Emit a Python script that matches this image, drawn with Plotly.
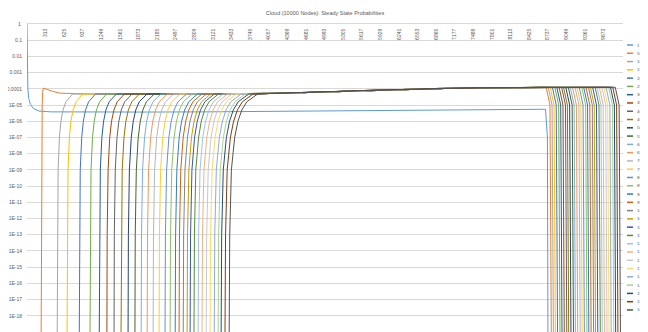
import plotly.graph_objects as go

# ---------------- data ----------------
series_names = ["1"] + [str(500 * i) for i in range(1, 33)]

colors = ["#5B9BD5", "#ED7D31", "#A5A5A5", "#FFC000", "#4472C4", "#70AD47",
          "#255E91", "#9E480E", "#636363", "#997300", "#264478", "#43682B",
          "#7CAFDD", "#F1975A", "#B7B7B7", "#FFCD33", "#698ED0", "#8CC168",
          "#327DC2", "#D26012", "#848484", "#CC9A00", "#335AA1", "#5A8A39",
          "#9DC3E6", "#F4B183", "#C9C9C9", "#FFD966", "#8FAADC", "#A9D18E",
          "#1F4E79", "#843C0C", "#525252"]

# series "1"
s1_node = [1, 3, 8, 15, 30, 60, 110, 200, 400, 1000, 2000, 3000, 4000, 5000, 6000, 7000, 8000, 8700, 8732, 8742]
s1_prob = [1, 1e-2, 1e-3, 1e-4, 2.5e-5, 1.1e-5, 6e-6, 4.3e-6, 3.8e-6, 3.7e-6, 3.7e-6, 3.8e-6, 4.0e-6,
           4.3e-6, 4.6e-6, 4.9e-6, 5.2e-6, 5.5e-6, 1e-7, 1e-21]

# series "500" (overshoots before joining the common plateau)
s2_node = [236, 240, 245, 250, 256, 262, 275, 330, 430, 560, 750]
s2_prob = [1e-21, 1e-13, 1e-9, 1e-7, 1e-5, 6e-5, 1.1e-4, 9.5e-5, 7e-5, 5.4e-5, 4.9e-5]

# rise fronts of series "1000" .. "16000": node reached at each probability level
rise_levels = [1e-21, 1e-13, 1e-9, 1e-7, 1e-6, 5e-6, 1.6e-5, 4.8e-5]
rise_at_1e21 = [505, 670, 875, 1055, 1210, 1340, 1460, 1575, 1695, 1810, 1915, 2015, 2115, 2215, 2315, 2400,
                2485, 2550, 2620, 2685, 2735, 2800, 2870, 2935, 3005, 3070, 3140, 3205, 3255, 3320, 3390]
rise_at_1e13 = [510, 675, 880, 1061, 1216, 1346, 1466, 1582, 1702, 1817, 1922, 2023, 2123, 2223, 2323, 2409,
                2494, 2559, 2629, 2694, 2745, 2810, 2880, 2945, 3016, 3081, 3151, 3216, 3267, 3332, 3402]
rise_at_1e9 = [523, 689, 894, 1075, 1231, 1362, 1482, 1598, 1719, 1835, 1940, 2041, 2142, 2243, 2343, 2429,
               2515, 2581, 2651, 2717, 2768, 2833, 2904, 2970, 3041, 3106, 3177, 3243, 3294, 3359, 3430]
rise_at_1e7 = [545, 712, 919, 1100, 1257, 1389, 1511, 1628, 1750, 1867, 1973, 2075, 2177, 2279, 2381, 2468,
               2554, 2621, 2693, 2760, 2812, 2879, 2950, 3017, 3089, 3156, 3228, 3295, 3346, 3413, 3485]
rise_at_1e6 = [570, 738, 946, 1128, 1286, 1419, 1542, 1660, 1783, 1901, 2008, 2111, 2214, 2317, 2420, 2508,
               2595, 2663, 2736, 2804, 2857, 2925, 2997, 3065, 3138, 3206, 3279, 3347, 3399, 3467, 3540]
rise_at_5e6 = [605, 774, 983, 1166, 1325, 1459, 1583, 1702, 1826, 1945, 2053, 2157, 2261, 2365, 2469, 2558,
               2646, 2715, 2789, 2858, 2912, 2981, 3054, 3123, 3197, 3266, 3340, 3409, 3462, 3531, 3605]
rise_at_16e6 = [655, 825, 1035, 1220, 1380, 1515, 1640, 1760, 1885, 2005, 2115, 2220, 2325, 2430, 2535, 2625,
                2715, 2785, 2860, 2930, 2985, 3055, 3130, 3200, 3275, 3345, 3420, 3490, 3545, 3615, 3690]
rise_join = [765, 937, 1150, 1337, 1499, 1637, 1764, 1886, 2014, 2136, 2248, 2356, 2463, 2570, 2678, 2770,
             2862, 2935, 3012, 3084, 3142, 3214, 3291, 3364, 3441, 3513, 3591, 3663, 3720, 3793, 3870]

# common plateau shared by all series "500" .. "16000"
plateau_node = [600, 1000, 1500, 2000, 2500, 3000, 3500, 4000, 4400, 4800, 5200, 5600, 6000, 6400, 6800,
                7200, 7600, 8000, 8400, 8800, 9200, 9600, 10000]
plateau_prob = [4.9e-5, 4.8e-5, 4.8e-5, 4.8e-5, 4.8e-5, 4.8e-5, 4.9e-5, 5.1e-5, 5.5e-5, 6.1e-5, 6.9e-5,
                7.8e-5, 8.7e-5, 9.6e-5, 1.04e-4, 1.1e-4, 1.15e-4, 1.19e-4, 1.22e-4, 1.25e-4, 1.27e-4,
                1.29e-4, 1.31e-4]

# fall-off at the end for series "500" .. "16000"
fall_leave = [8710, 8745, 8778, 8815, 8856, 8890, 8928, 8970, 9002, 9040, 9082, 9115, 9153, 9195, 9228, 9265,
              9308, 9340, 9378, 9420, 9452, 9490, 9532, 9565, 9602, 9645, 9678, 9715, 9758, 9790, 9828, 9870]
fall_knee = [8775, 8810, 8843, 8880, 8921, 8955, 8993, 9035, 9067, 9105, 9147, 9180, 9218, 9260, 9293, 9330,
             9373, 9405, 9443, 9485, 9517, 9555, 9597, 9630, 9667, 9710, 9743, 9780, 9823, 9855, 9893, 9935]
fall_bottom = [8800, 8835, 8868, 8905, 8946, 8980, 9018, 9060, 9092, 9130, 9172, 9205, 9243, 9285, 9318, 9355,
               9398, 9430, 9468, 9510, 9542, 9580, 9622, 9655, 9692, 9735, 9768, 9805, 9848, 9880, 9918, 9960]
fall_levels = [1.26e-4, 1e-5, 1e-21]

x_tick_labels = ["1", "313", "625", "937", "1249", "1561", "1873", "2185", "2497", "2809", "3121", "3433",
                 "3745", "4057", "4369", "4681", "4993", "5305", "5617", "5929", "6241", "6553", "6865",
                 "7177", "7489", "7801", "8113", "8425", "8737", "9049", "9361", "9673", "9985"]
y_tick_exponents = list(range(0, -20, -1))
y_tick_labels = ["1", "0.1", "0.01", "0.001", "0.0001", "1E-05", "1E-06", "1E-07", "1E-08", "1E-09",
                 "1E-10", "1E-11", "1E-12", "1E-13", "1E-14", "1E-15", "1E-16", "1E-17", "1E-18", "1E-19"]

title_text = "Cloud (10000 Nodes): Steady State Probabilities"

# ---------------- build traces ----------------
traces_x = [s1_node]
traces_y = [s1_prob]

xs = list(s2_node)
ys = list(s2_prob)
for n, p in zip(plateau_node, plateau_prob):
    if s2_node[-1] < n < fall_leave[0]:
        xs.append(n); ys.append(p)
xs += [fall_leave[0], fall_knee[0], fall_bottom[0]]
ys += fall_levels
traces_x.append(xs); traces_y.append(ys)

rise_cols = [rise_at_1e21, rise_at_1e13, rise_at_1e9, rise_at_1e7, rise_at_1e6, rise_at_5e6, rise_at_16e6, rise_join]
for k in range(len(rise_at_1e21)):
    xs = [col[k] for col in rise_cols]
    ys = list(rise_levels)
    j = k + 1
    for n, p in zip(plateau_node, plateau_prob):
        if rise_join[k] < n < fall_leave[j]:
            xs.append(n); ys.append(p)
    xs += [fall_leave[j], fall_knee[j], fall_bottom[j]]
    ys += fall_levels
    traces_x.append(xs); traces_y.append(ys)

fig = go.Figure()
for name, col, xs, ys in zip(series_names, colors, traces_x, traces_y):
    fig.add_trace(go.Scatter(x=xs, y=ys, mode="lines", name=name,
                             line=dict(color=col, width=1), showlegend=False))

# ---------------- layout ----------------
# the page body has an 8px margin, so the figure is 8px smaller than the window
OFF = 8
W, H = 648 - OFF, 332 - OFF
ml, mt, mb = 27 - OFF, 24 - OFF, 0
plot_right = 623 - OFF
mr = W - plot_right
pw, ph = W - ml - mr, H - mt - mb

fig.update_layout(
    width=W, height=H,
    margin=dict(l=ml, r=mr, t=mt, b=mb, pad=0, autoexpand=False),
    paper_bgcolor="white", plot_bgcolor="white",
    font=dict(family="Liberation Sans, Arial, sans-serif", color="#595959"),
    title=dict(text=title_text, x=(ml + pw / 2) / W, xanchor="center", y=1 - (13 - OFF) / H,
               yanchor="middle", font=dict(size=5.5, color="#595959")),
)

fig.update_xaxes(range=[1, 10000], side="top", tickmode="array",
                 tickvals=[int(t) for t in x_tick_labels], ticktext=x_tick_labels,
                 tickangle=-90, ticklabelposition="inside", ticks="",
                 tickfont=dict(size=5, color="#595959"),
                 showgrid=False, zeroline=False, showline=True, linecolor="#D9D9D9", linewidth=1)

fig.update_yaxes(type="log", range=[-19, 0], tickmode="array",
                 tickvals=[10.0 ** e for e in y_tick_exponents], ticktext=y_tick_labels,
                 tickfont=dict(size=5, color="#595959"), ticks="", ticklabelstandoff=4,
                 showgrid=True, gridcolor="#D9D9D9", gridwidth=1, zeroline=False, showline=False)

shapes, annots = [], []
# top value label "1" (hidden by plotly next to the inside x labels)
annots.append(dict(xref="paper", yref="paper", x=0, y=1, xanchor="right", yanchor="middle",
                   xshift=-4, text=y_tick_labels[0], showarrow=False,
                   font=dict(size=5, color="#595959")))

# compact Excel-style legend
for i, (name, col) in enumerate(zip(series_names, colors)):
    py = 45 + 8.28 * i - OFF
    yp = (H - mb - py) / ph
    shapes.append(dict(type="line", xref="paper", yref="paper",
                       x0=(627 - OFF - ml) / pw, x1=(633 - OFF - ml) / pw, y0=yp, y1=yp,
                       line=dict(color=col, width=1.5)))
    annots.append(dict(xref="paper", yref="paper", x=(634.5 - OFF - ml) / pw, y=yp, xanchor="left",
                       yanchor="middle", text=name, showarrow=False,
                       font=dict(size=4.3, color="#595959")))
fig.update_layout(shapes=shapes, annotations=annots)

fig.write_html("out.html")
